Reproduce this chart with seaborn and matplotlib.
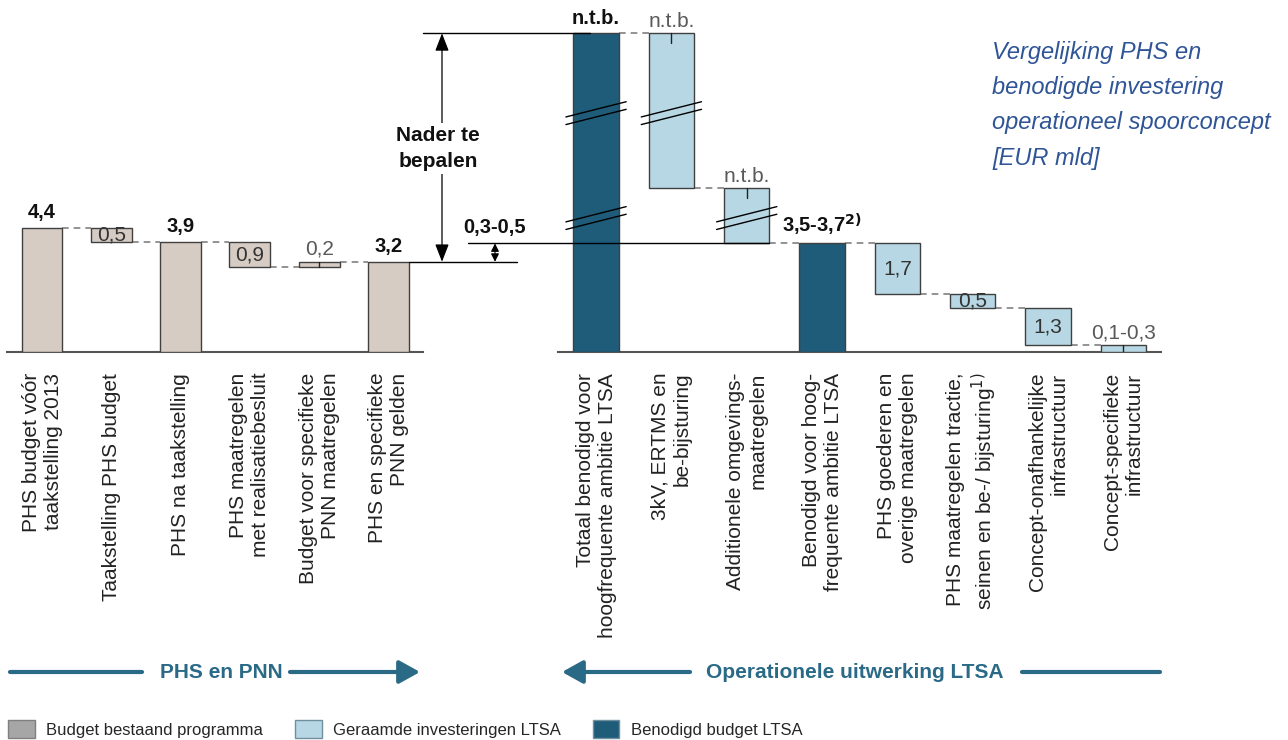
import pandas as pd
import matplotlib
matplotlib.use('Agg')
import matplotlib.pyplot as plt
from matplotlib.patches import Patch
import seaborn as sns

# Data: left waterfall (PHS en PNN)
left_labels = ['PHS budget vóór\ntaakstelling 2013', 'Taakstelling PHS budget', 'PHS na taakstelling',
               'PHS maatregelen\nmet realisatiebesluit', 'Budget voor specifieke\nPNN maatregelen',
               'PHS en specifieke\nPNN gelden']
left_values = [4.4, -0.5, 3.9, -0.9, 0.2, 3.2]
left_is_total = [True, False, True, False, False, True]
left_texts = ['4,4', '0,5', '3,9', '0,9', '0,2', '3,2']
left_text_pos = ['bold', 'inside', 'bold', 'inside', 'light', 'bold']
left_series = ['bestaand'] * 6
left_marks = [False, False, False, False, True, False]

# Data: right waterfall (operationele uitwerking LTSA), heights as drawn
right_labels = ['Totaal benodigd voor\nhoogfrequente ambitie LTSA', '3kV, ERTMS en\nbe-bijsturing',
                'Additionele omgevings-\nmaatregelen', 'Benodigd voor hoog-\nfrequente ambitie LTSA',
                'PHS goederen en\noverige maatregelen', 'PHS maatregelen tractie,\nseinen en be-/ bijsturing$^{1)}$',
                'Concept-onafhankelijke\ninfrastructuur', 'Concept-specifieke\ninfrastructuur']
right_values = [11.3, -5.5, -1.95, 3.85, -1.8, -0.5, -1.3, -0.25]
right_is_total = [True, False, False, True, False, False, False, False]
right_texts = ['n.t.b.', 'n.t.b.', 'n.t.b.', '3,5-3,7$^{\\mathbf{2)}}$', '1,7', '0,5', '1,3', '0,1-0,3']
right_text_pos = ['bold', 'light', 'light', 'bold', 'inside', 'inside', 'inside', 'light']
right_series = ['benodigd', 'geraamd', 'geraamd', 'benodigd', 'geraamd', 'geraamd', 'geraamd', 'geraamd']
right_marks = [False, True, True, False, False, False, False, True]
right_breaks = [[8.47, 4.75], [8.47], [4.75], [], [], [], [], []]

series_names = {'bestaand': 'Budget bestaand programma', 'geraamd': 'Geraamde investeringen LTSA',
                'benodigd': 'Benodigd budget LTSA'}
bar_colors = {'bestaand': '#D6CCC4', 'geraamd': '#B7D7E4', 'benodigd': '#1F5C7A'}
legend_colors = {'bestaand': '#A6A6A6', 'geraamd': '#B7D7E4', 'benodigd': '#1F5C7A'}
title_lines = ['Vergelijking PHS en', 'benodigde investering', 'operationeel spoorconcept', '[EUR mld]']

EDGE = '#404040'
TEAL = '#2A6A87'

sns.set_theme(style='white')
plt.rcParams['font.family'] = ['Liberation Sans', 'DejaVu Sans']

W, H = 1288, 740
fig = plt.figure(figsize=(W / 100, H / 100), dpi=100)


def fx(px):
    return px / W


def fy(px):
    return 1 - px / H


ymax = (352 - 20) / 28.2
ax_l = fig.add_axes([fx(7.35), fy(352), fx(423.2) - fx(7.35), fy(20) - fy(352)])
ax_r = fig.add_axes([fx(558.4), fy(352), fx(1161) - fx(558.4), fy(20) - fy(352)])


def waterfall(values, is_total):
    bottoms, heights, levels = [], [], []
    run = 0.0
    for v, t in zip(values, is_total):
        if t:
            bottoms.append(0.0)
            heights.append(v)
            run = v
        else:
            bottoms.append(run + min(v, 0))
            heights.append(abs(v))
            run += v
        levels.append(run)
    return bottoms, heights, levels


def draw_group(ax, labels, values, is_total, series, texts, text_pos, marks, width):
    bottoms, heights, levels = waterfall(values, is_total)
    df = pd.DataFrame({'label': labels, 'height': heights})
    sns.barplot(data=df, x='label', y='height', hue='label',
                palette=[bar_colors[s] for s in series], dodge=False, width=width,
                edgecolor=EDGE, linewidth=1, saturation=1, errorbar=None, legend=False, ax=ax)
    # float the steps of the waterfall
    for p, b in zip(ax.patches, bottoms):
        p.set_y(b)
        p.set_zorder(3)

    n = len(labels)
    ax.set_xlim(-0.5, n - 0.5)
    ax.set_ylim(0, ymax)
    ax.set_facecolor('none')
    ax.set_xlabel('')
    ax.set_ylabel('')
    ax.set_yticks([])
    ax.set_xticks(range(n), labels, rotation=90, multialignment='right', fontsize=15, color='#222222')
    ax.tick_params(axis='x', length=0, pad=15)
    for side in ['left', 'right', 'top']:
        ax.spines[side].set_visible(False)
    ax.spines['bottom'].set_color('#555555')
    ax.spines['bottom'].set_linewidth(1.5)

    half = width / 2
    for i in range(n - 1):
        ax.plot([i + half, i + 1 - half], [levels[i]] * 2, color='#808080', lw=1.2,
                ls=(0, (4, 3)), zorder=2)

    for i, (txt, pos) in enumerate(zip(texts, text_pos)):
        top = bottoms[i] + heights[i]
        if pos == 'inside':
            ax.text(i, bottoms[i] + heights[i] / 2, txt, ha='center', va='center', fontsize=15,
                    color='#333333', zorder=6)
        elif pos == 'bold':
            ax.annotate(txt, (i, top), xytext=(0, 4), textcoords='offset points', ha='center',
                        va='bottom', fontsize=14.5, fontweight='bold', color='#111111')
        else:
            ax.annotate(txt, (i, top), xytext=(0, 2), textcoords='offset points', ha='center',
                        va='bottom', fontsize=15, color='#595959')

    for i, m in enumerate(marks):
        if m:
            top = bottoms[i] + heights[i]
            ax.plot([i, i], [top, top - min(0.35, heights[i])], color='#222222', lw=1, zorder=5)
    return bottoms, heights, levels


lb, lh, llev = draw_group(ax_l, left_labels, left_values, left_is_total, left_series,
                          left_texts, left_text_pos, left_marks, 0.59)
rb, rh, rlev = draw_group(ax_r, right_labels, right_values, right_is_total, right_series,
                          right_texts, right_text_pos, right_marks, 0.6)

# break marks on the non-scaled bars
for i, ys in enumerate(right_breaks):
    for yb in ys:
        for d in (-0.135, 0.135):
            ax_r.plot([i - 0.4, i + 0.4], [yb + d - 0.27, yb + d + 0.27], color='black', lw=1,
                      zorder=7, clip_on=False)


def rx(px):
    return ax_r.transData.inverted().transform((px, 0))[0]


def lx(px):
    return ax_l.transData.inverted().transform((px, 0))[0]


total_top = rlev[0]
needed = rlev[3]
phs_level = llev[-1]

# reference lines
ax_r.plot([rx(423), rx(590)], [total_top] * 2, color='black', lw=1, zorder=4, clip_on=False)
ax_r.plot([rx(468), 2.3], [needed] * 2, color='black', lw=1, zorder=4, clip_on=False)
ax_l.plot([5 + 0.295, lx(517)], [phs_level] * 2, color='black', lw=1, zorder=4, clip_on=False)

# "Nader te bepalen" arrow
ax_r.annotate('', xy=(rx(442), phs_level), xytext=(rx(442), total_top),
              arrowprops=dict(arrowstyle='<|-|>,head_length=0.9,head_width=0.35', color='black',
                              lw=0.9, shrinkA=0, shrinkB=0), annotation_clip=False)
ax_r.text(rx(438), (352 - 148.5) / 28.2, 'Nader te\nbepalen', ha='center', va='center', fontsize=15,
          fontweight='bold', color='#111111', linespacing=1.45, zorder=8,
          bbox=dict(facecolor='white', edgecolor='none', pad=2))

# small gap arrow 0,3-0,5
ax_r.annotate('', xy=(rx(495), phs_level), xytext=(rx(495), needed),
              arrowprops=dict(arrowstyle='<|-|>,head_length=0.4,head_width=0.2', color='black',
                              lw=0.8, shrinkA=0, shrinkB=0), annotation_clip=False)
ax_r.text(rx(495), (352 - 228) / 28.2, '0,3-0,5', ha='center', va='center', fontsize=14.5,
          fontweight='bold', color='#111111')

# title
for k, line in enumerate(title_lines):
    fig.text(fx(992), fy(52 + 35.5 * k), line, ha='left', va='center', fontsize=17,
             style='italic', color='#2F5597')

# section arrows at the bottom
ys = H - 672
arrow_kw = dict(arrowstyle='-|>,head_length=0.9,head_width=0.5', color=TEAL, lw=3,
                mutation_scale=14, shrinkA=0, shrinkB=0)
fig.add_artist(plt.Line2D([fx(10), fx(142)], [fy(672)] * 2, color=TEAL, lw=3))
fig.text(fx(221), fy(672), 'PHS en PNN', ha='center', va='center', fontsize=15,
         fontweight='bold', color=TEAL)
ax_l.annotate('', xy=(420, ys), xytext=(290, ys), xycoords='figure pixels',
              textcoords='figure pixels', arrowprops=arrow_kw, annotation_clip=False)
ax_r.annotate('', xy=(562, ys), xytext=(690, ys), xycoords='figure pixels',
              textcoords='figure pixels', arrowprops=arrow_kw, annotation_clip=False)
fig.text(fx(855), fy(672), 'Operationele uitwerking LTSA', ha='center', va='center', fontsize=15,
         fontweight='bold', color=TEAL)
fig.add_artist(plt.Line2D([fx(1022), fx(1160)], [fy(672)] * 2, color=TEAL, lw=3))

# legend
order = ['bestaand', 'geraamd', 'benodigd']
handles = [Patch(facecolor=legend_colors[k], edgecolor='#6f8f9f' if k != 'bestaand' else '#7f7f7f',
                 linewidth=1) for k in order]
fig.legend(handles, [series_names[k] for k in order], loc='center left',
           bbox_to_anchor=(fx(8), fy(729)), ncol=3, frameon=False, fontsize=12,
           handlelength=1.6, handleheight=1.3, handletextpad=0.7, columnspacing=1.9,
           borderpad=0, borderaxespad=0)

fig.savefig('out.png', dpi=100)
